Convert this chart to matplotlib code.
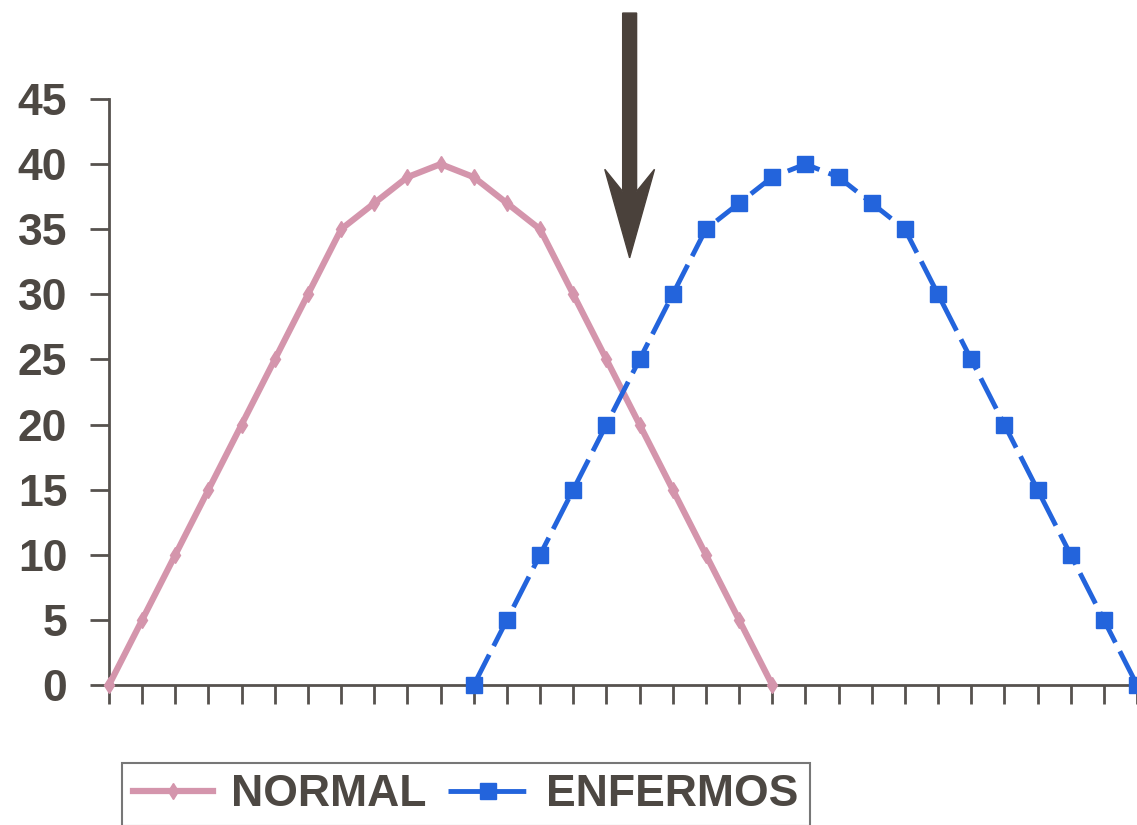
import matplotlib
matplotlib.use("Agg")
import matplotlib.pyplot as plt
from matplotlib.patches import FancyArrow

# Series values (one value per position on the x axis, 32 positions)
normal_x = list(range(0, 21))
normal_y = [0, 5, 10, 15, 20, 25, 30, 35, 37, 39, 40, 39, 37, 35, 30, 25, 20, 15, 10, 5, 0]
enfermos_x = list(range(11, 32))
enfermos_y = [0, 5, 10, 15, 20, 25, 30, 35, 37, 39, 40, 39, 37, 35, 30, 25, 20, 15, 10, 5, 0]
y_ticks = [0, 5, 10, 15, 20, 25, 30, 35, 40, 45]
series_names = ["NORMAL", "ENFERMOS"]

TEXT = "#4d4843"
AXIS = "#56524e"
PINK = "#d495ac"
BLUE = "#2364dc"
ARROW = "#4a413b"

plt.rcParams["font.family"] = ["Liberation Sans", "DejaVu Sans"]

fig = plt.figure(figsize=(11.37, 8.25), dpi=100)
ax = fig.add_axes([109 / 1137, 140 / 825, 1 - 109 / 1137, 586 / 825])

ax.plot(normal_x, normal_y, color=PINK, lw=4.5, marker="d", ms=8,
        mec=PINK, mfc=PINK, label=series_names[0], clip_on=False, zorder=3)
ax.plot(enfermos_x, enfermos_y, color=BLUE, lw=3.5, ls=(0, (7, 2)),
        marker="s", ms=11, mec=BLUE, mfc=BLUE, label=series_names[1],
        clip_on=False, zorder=3)

ax.set_xlim(0, 31)
ax.set_ylim(0, 45)
ax.set_xticks(range(0, 32))
ax.set_xticklabels([])
ax.set_yticks(y_ticks)
ax.set_yticklabels([str(v) for v in y_ticks], fontsize=32, fontweight="bold",
                   color=TEXT)

for side in ("top", "right"):
    ax.spines[side].set_visible(False)
for side in ("left", "bottom"):
    ax.spines[side].set_color(AXIS)
    ax.spines[side].set_linewidth(2)
ax.tick_params(axis="y", direction="out", length=14, width=2, color=AXIS, pad=16)
ax.tick_params(axis="x", direction="out", length=14, width=2, color=AXIS)

# Pointer marking where both curves cross
arrow = FancyArrow(15.7, 51.6, 0, -18.8, width=0.42, head_width=1.5,
                   head_length=6.8, overhang=0.25, length_includes_head=True,
                   color=ARROW, clip_on=False, zorder=4)
ax.add_patch(arrow)

leg = fig.legend(loc="upper left", bbox_to_anchor=(122 / 1137, 1 - 763 / 825),
                 ncol=2, fontsize=32, frameon=True, fancybox=False,
                 handlelength=1.8, handletextpad=0.4, columnspacing=0.5,
                 borderpad=0.25, borderaxespad=0)
leg.get_frame().set_edgecolor("#555555")
leg.get_frame().set_linewidth(1.5)
for t in leg.get_texts():
    t.set_color(TEXT)
    t.set_fontweight("bold")

fig.savefig("out.png", dpi=100)
